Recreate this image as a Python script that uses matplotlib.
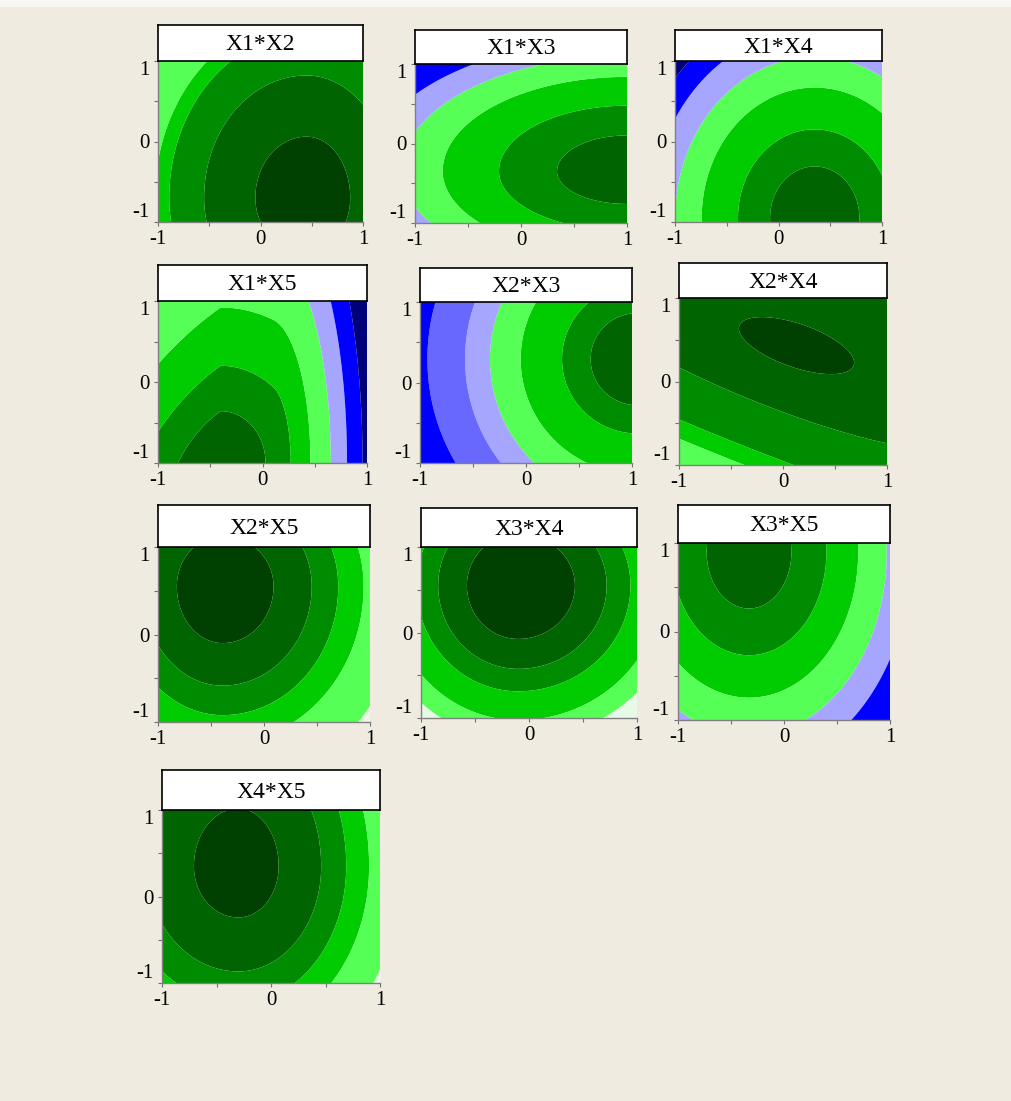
import numpy as np
import matplotlib
matplotlib.use('Agg')
import matplotlib.pyplot as plt
from matplotlib.patches import Rectangle

plt.rcParams['font.family'] = ['Liberation Serif', 'DejaVu Serif']
plt.rcParams['axes.unicode_minus'] = False

W, H = 1011, 1101

titles = ['X1*X2', 'X1*X3', 'X1*X4', 'X1*X5', 'X2*X3',
          'X2*X4', 'X2*X5', 'X3*X4', 'X3*X5', 'X4*X5']

# optimum of each response surface and its spread on either side
cx = [0.45, 1.0, 0.35, -0.4, 1.05, 0.13, -0.39, -0.1, -0.33, -0.3]
cy = [-0.7, -0.35, -0.95, -1.0, 0.29, 0.43, 0.55, 0.55, 0.9, 0.35]
rot = [0, 0, 0, 0, 0, -25, 0, 0, 0, 0]
sx_lo = [1.0, 1.61, 0.674, 0.64, 1.0, 1.0, 0.9, 0.95, 1.0, 1.1]
sx_hi = [0.85, 1.61, 0.674, 0.67, 1.0, 1.0, 1.0, 1.05, 1.0, 1.0]
sy_lo = [1.36, 1.0, 1.0, 1.0, 1.3, 0.42, 1.35, 1.25, 1.6, 1.6]
sy_hi = [1.52, 1.1, 1.0, 1.0, 1.3, 0.42, 1.2, 1.2, 1.43, 1.8]
# skew on the low-x side of the optimum
skew = [0, 0, 0, -1.15, 0, 0, 0, 0, 0, 0]
# steep fall-off along one direction: (nx, ny, start, strength)
cliff = [(1, 0, 9, 0)] * 10
cliff[3] = (1, 0, 0.106, 16.4)
cliff[5] = (-0.45, -0.89, 0.1, 22.6)

# band edges (distance from optimum) and band colours, inner to outer
radii = [
    [0.5, 1.0, 1.34, 1.48],
    [0.41, 0.75, 1.08, 1.32, 1.52],
    [0.64, 1.1, 1.62, 2.0, 2.35, 2.65],
    [0.64, 1.2, 1.92, 2.72, 3.37, 4.0],
    [0.44, 0.71, 1.1, 1.39, 1.625, 1.98],
    [0.6, 2.15, 4.75, 5.8],
    [0.48, 0.84, 1.09, 1.33, 1.72],
    [0.5, 0.78, 0.99, 1.26, 1.45],
    [0.4, 0.73, 1.03, 1.3, 1.53],
    [0.37, 0.76, 0.99, 1.2, 1.5],
]
pal = {'g0': '#004000', 'g1': '#006400', 'g2': '#008c00', 'g3': '#00cc00',
       'g4': '#55ff55', 'w': '#e6fae6', 'l': '#a6a6ff', 'm': '#6868ff',
       'b': '#0000ff', 'n': '#00007a'}
bands = [
    ['g0', 'g1', 'g2', 'g3', 'g4'],
    ['g1', 'g2', 'g3', 'g4', 'l', 'b'],
    ['g1', 'g2', 'g3', 'g4', 'l', 'b', 'n'],
    ['g1', 'g2', 'g3', 'g4', 'l', 'b', 'n'],
    ['g1', 'g2', 'g3', 'g4', 'l', 'm', 'b'],
    ['g0', 'g1', 'g2', 'g3', 'g4'],
    ['g0', 'g1', 'g2', 'g3', 'g4', 'w'],
    ['g0', 'g1', 'g2', 'g3', 'g4', 'w'],
    ['g1', 'g2', 'g3', 'g4', 'l', 'b'],
    ['g0', 'g1', 'g2', 'g3', 'g4', 'w'],
]

# layout in pixels: plot left, right, title top, plot top, plot bottom
boxes = [
    (158, 363, 25, 61, 222), (415, 627, 30, 64, 223), (675, 882, 30, 61, 222),
    (158, 367, 265, 301, 463), (420, 632, 268, 302, 463), (679, 887, 263, 298, 465),
    (158, 370, 505, 547, 722), (421, 637, 508, 547, 718), (678, 890, 505, 543, 720),
    (162, 380, 770, 810, 983),
]


def surface(i, X, Y):
    dx = X - cx[i]
    dy = Y - cy[i]
    a = np.radians(rot[i])
    u = dx * np.cos(a) + dy * np.sin(a)
    v = -dx * np.sin(a) + dy * np.cos(a)
    u = u / np.where(u < 0, sx_lo[i], sx_hi[i])
    v = v / np.where(v < 0, sy_lo[i], sy_hi[i])
    nx, ny, t, k = cliff[i]
    q = u ** 2 + v ** 2 + skew[i] * u * v * (u < 0)
    q = q + k * np.clip(nx * X + ny * Y - t, 0, None) ** 2
    return np.sqrt(np.clip(q, 0, None))


fig = plt.figure(figsize=(W / 100, H / 100), dpi=100, facecolor='#efebe1')
fig.patches.append(Rectangle((0, 1 - 7 / H), 1, 7 / H, transform=fig.transFigure,
                             facecolor='#f7f6f3', edgecolor='none', zorder=0))

g = np.linspace(-1, 1, 400)
X, Y = np.meshgrid(g, g)

for i, name in enumerate(titles):
    l, r, tt, pt, pb = boxes[i]
    ax = fig.add_axes([l / W, 1 - pb / H, (r - l) / W, (pb - pt) / H])
    Z = surface(i, X, Y)
    lev = [-1] + radii[i] + [1e3]
    ax.contourf(X, Y, Z, levels=lev, colors=[pal[c] for c in bands[i]], antialiased=True)
    ax.set_xlim(-1, 1)
    ax.set_ylim(-1, 1)
    ax.set_xticks([-1, 0, 1])
    ax.set_yticks([-1, 0, 1])
    ax.set_xticklabels(['-1', '0', '1'])
    ax.set_yticklabels(['-1', '0', '1'])
    ax.set_xticks([-0.5, 0.5], minor=True)
    ax.set_yticks([-0.5, 0.5], minor=True)
    ax.tick_params(which='both', length=3, width=0.8, color='#707070',
                   labelsize=15, pad=3)
    ylab = ax.get_yticklabels()
    ylab[0].set_va('bottom')
    ylab[2].set_va('top')
    for s in ['top', 'right']:
        ax.spines[s].set_visible(False)
    for s in ['left', 'bottom']:
        ax.spines[s].set_color('#808080')
        ax.spines[s].set_linewidth(1.0)

    tax = fig.add_axes([l / W, 1 - pt / H, (r - l) / W, (pt - tt) / H])
    tax.set_facecolor('white')
    tax.set_xticks([])
    tax.set_yticks([])
    for s in tax.spines.values():
        s.set_color('black')
        s.set_linewidth(1.2)
    tax.text(0.5, 0.45, name, ha='center', va='center', fontsize=17,
             transform=tax.transAxes)

fig.savefig('out.png', dpi=100, facecolor=fig.get_facecolor())
